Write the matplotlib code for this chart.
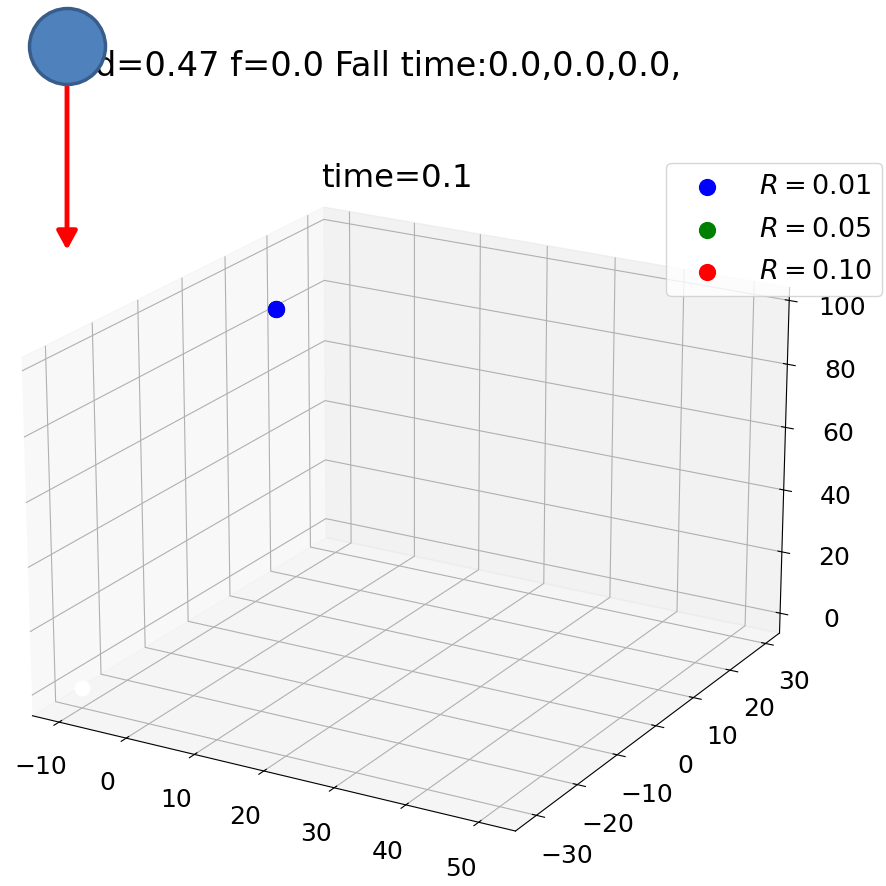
import numpy as np
import matplotlib
matplotlib.use('Agg')
import matplotlib.pyplot as plt
from matplotlib.patches import Circle, FancyArrowPatch

# ball positions at time=0.1
ball_x = [0.0, 0.0, 0.0]
ball_y = [0.0, 0.0, 0.0]
ball_z = [99.5, 99.5, 99.5]
ball_colors = ['b', 'g', 'r']
ball_labels = ['$R=0.01$', '$R=0.05$', '$R=0.10$']

# ground marker
ground_x = [-10.0]
ground_y = [-30.0]
ground_z = [0.0]

x_ticks = [-10, 0, 10, 20, 30, 40, 50]
y_ticks = [-30, -20, -10, 0, 10, 20, 30]
z_ticks = [0, 20, 40, 60, 80, 100]

d = 0.47
f = 0.0
fall_times = [0.0, 0.0, 0.0]
t = 0.1

fig = plt.figure(figsize=(8.87, 8.86), dpi=100)
ax = fig.add_axes([-0.047, -0.078, 1, 1], projection='3d')
ax.view_init(elev=20.7, azim=-60)
ax.set_box_aspect((0.967, 1, 0.664), zoom=0.956)

handles = {}
# red, green first so blue sits on top (same spot)
for i in [2, 1, 0]:
    handles[i] = ax.scatter([ball_x[i]], [ball_y[i]], [ball_z[i]], c=ball_colors[i],
                            s=130, depthshade=False, label=ball_labels[i])
ax.scatter(ground_x, ground_y, ground_z, c='w', s=110, depthshade=False)

ax.set_xlim(-14, 55)
ax.set_ylim(-35, 34)
ax.set_zlim(-6.5, 104)
ax.set_xticks(x_ticks)
ax.set_yticks(y_ticks)
ax.set_zticks(z_ticks)
ax.tick_params(labelsize=18)
ax.tick_params(axis='x', pad=12)
ax.tick_params(axis='y', pad=12)
ax.tick_params(axis='z', pad=16)

fig.legend([handles[0], handles[1], handles[2]], ball_labels, loc='upper right',
           bbox_to_anchor=(0.9944, 0.816), borderaxespad=0, fontsize=19.5,
           labelspacing=0.62, handlelength=2.2)

fig.text(0.4476, 0.789, 'time=%.1f' % t, ha='center', va='baseline', fontsize=23.3)
txt = 'd=%.2f f=%.1f Fall time:' % (d, f) + ''.join('%.1f,' % v for v in fall_times)
fig.text(0.107, 0.914, txt, ha='left', va='baseline', fontsize=24.2)

# falling ball sketch
fig.add_artist(FancyArrowPatch((67 / 887, 1 - 85 / 886), (67 / 887, 1 - 250 / 886),
                               transform=fig.transFigure, color='red', lw=3.5,
                               arrowstyle='-|>,head_length=1.0,head_width=0.55',
                               mutation_scale=11, shrinkA=0, shrinkB=0))
fig.add_artist(Circle((67.5 / 887, 1 - 46.5 / 886), 38 / 887, transform=fig.transFigure,
                      facecolor='#4F81BD', edgecolor='#385D8A', lw=2.5, zorder=10))

fig.savefig('out.png', dpi=100)
